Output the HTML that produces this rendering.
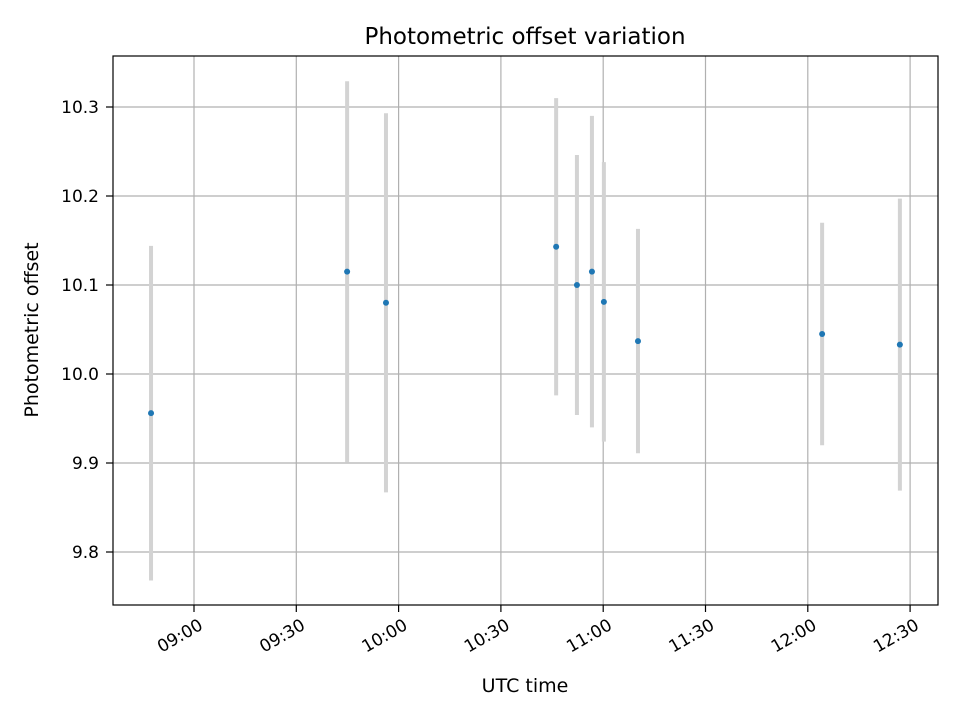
<!DOCTYPE html>
<html><head><meta charset="utf-8"><style>
body{margin:0;background:#fff;}
svg text{font-family:"DejaVu Sans","Liberation Sans",sans-serif;}
</style></head><body>
<svg id="chart" width="960" height="720" xmlns="http://www.w3.org/2000/svg">
<rect width="960" height="720" fill="#fff"/>
<g id="grid"></g>
<g id="errs"></g>
<g id="pts"></g>
<rect x="113" y="56" width="825" height="549" fill="none" stroke="#000" stroke-width="1.2"/>
<g id="ticks"></g>
<text x="525" y="44" style="font-size:23px" text-anchor="middle">Photometric offset variation</text>
<text x="525" y="692" style="font-size:19px" text-anchor="middle">UTC time</text>
<text transform="translate(38,330) rotate(-90)" style="font-size:19px" text-anchor="middle">Photometric offset</text>
</svg>
<script>
// times in minutes since midnight UTC
const times = [527.4, 584.9, 596.3, 646.2, 652.3, 656.7, 660.2, 670.2, 724.2, 747.0];
const offsets = [9.956, 10.115, 10.080, 10.143, 10.100, 10.115, 10.081, 10.037, 10.045, 10.033];
const errors = [0.188, 0.214, 0.213, 0.167, 0.146, 0.175, 0.157, 0.126, 0.125, 0.164];
const xTicks = [540, 570, 600, 630, 660, 690, 720, 750];
const xTickLabels = ["09:00","09:30","10:00","10:30","11:00","11:30","12:00","12:30"];
const yTicks = [9.8, 9.9, 10.0, 10.1, 10.2, 10.3];
const yTickLabels = ["9.8","9.9","10.0","10.1","10.2","10.3"];

const NS="http://www.w3.org/2000/svg";
const L=113,R=938,T=56,B=605;
function xs(m){return 194+(m-540)*(102.3/30);}
function ys(v){return 374-(v-10)*890;}
function mk(tag,attrs,parent){const e=document.createElementNS(NS,tag);for(const k in attrs)e.setAttribute(k,attrs[k]);parent.appendChild(e);return e;}
const grid=document.getElementById('grid'),ticks=document.getElementById('ticks'),errs=document.getElementById('errs'),pts=document.getElementById('pts');
xTicks.forEach((t,i)=>{const x=xs(t);
 const g=mk('line',{x1:x,x2:x,y1:T,y2:B,stroke:'#b0b0b0','stroke-width':1.2},grid);
 
 
 const tk=mk('line',{x1:x,x2:x,y1:B,y2:B+7,stroke:'#000','stroke-width':1.2},ticks);
 
 
 const tx=mk('text',{transform:`translate(${x+4},${B+13}) rotate(-30)`,style:'font-size:17px','text-anchor':'end','dominant-baseline':'hanging'},ticks);
 tx.textContent=xTickLabels[i];
 
 
});
yTicks.forEach((t,i)=>{const y=ys(t);
 const g=mk('line',{x1:L,x2:R,y1:y,y2:y,stroke:'#b0b0b0','stroke-width':1.2},grid);
 
 
 const tk=mk('line',{x1:L-7,x2:L,y1:y,y2:y,stroke:'#000','stroke-width':1.2},ticks);
 
 
 const tx=mk('text',{x:L-14,y:y+6,style:'font-size:17px','text-anchor':'end'},ticks);
 tx.textContent=yTickLabels[i];
 
 
});
times.forEach((t,i)=>{const x=xs(t);
 const e=mk('line',{x1:x,x2:x,y1:ys(offsets[i]+errors[i]),y2:ys(offsets[i]-errors[i]),stroke:'#d3d3d3','stroke-width':4},errs);
 
 
 const c=mk('circle',{cx:x,cy:ys(offsets[i]),r:3,fill:'#1f77b4'},pts);
 
 
});
</script>
</body></html>
